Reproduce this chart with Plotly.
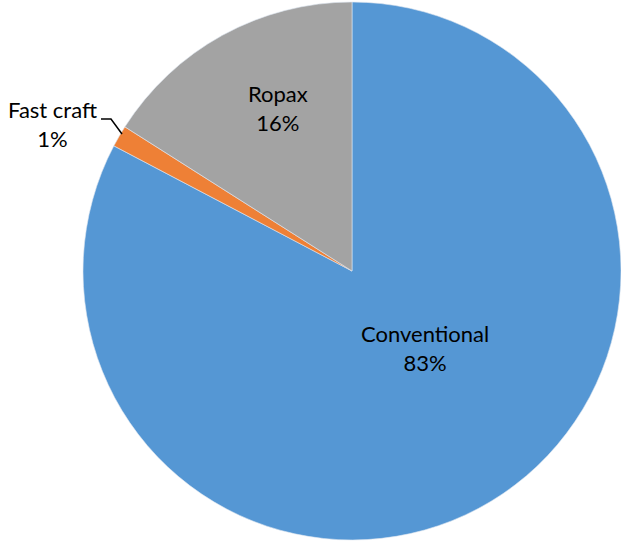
import plotly.graph_objects as go

labels = ["Conventional", "Fast craft", "Ropax"]
values = [82.7, 1.3, 16.0]
pct_labels = ["83%", "1%", "16%"]
colors = ["#5597D4", "#EE8036", "#A3A3A3"]

W, H = 621, 541
cx, cy, r = 352, 271, 269

def px(x):
    return x / W

def py(y):
    return 1 - y / H

fig = go.Figure(go.Pie(
    labels=labels, values=values, sort=False, direction="clockwise", rotation=0,
    marker=dict(colors=colors, line=dict(width=0.6, color="#DDE6F0")),
    textinfo="none", hoverinfo="label+percent", showlegend=False,
    domain=dict(x=[px(cx - r), px(cx + r)], y=[py(cy + r), py(cy - r)]),
))

font = dict(family="Lato, Carlito, Calibri, sans-serif", size=22, color="#000000")
label_pos = [(425, 348), (52, 124), (278, 108)]
for lab, pct, (x, y) in zip(labels, pct_labels, label_pos):
    fig.add_annotation(x=px(x), y=py(y), xref="paper", yref="paper",
                       text=f"{lab}<br>{pct}", showarrow=False, font=font,
                       xanchor="center", yanchor="middle", align="center")

# leader line for Fast craft
pts = [(101, 119), (111, 119), (122, 134)]
path = "M " + " L ".join(f"{px(x)},{py(y)}" for x, y in pts)
fig.add_shape(type="path", path=path, xref="paper", yref="paper",
              line=dict(color="#000000", width=1.5))

fig.update_layout(width=W, height=H, margin=dict(l=0, r=0, t=0, b=0),
                  paper_bgcolor="white", plot_bgcolor="white")
fig.write_html("out.html", config={"displayModeBar": False},
               post_script="document.body.style.margin='0';")
